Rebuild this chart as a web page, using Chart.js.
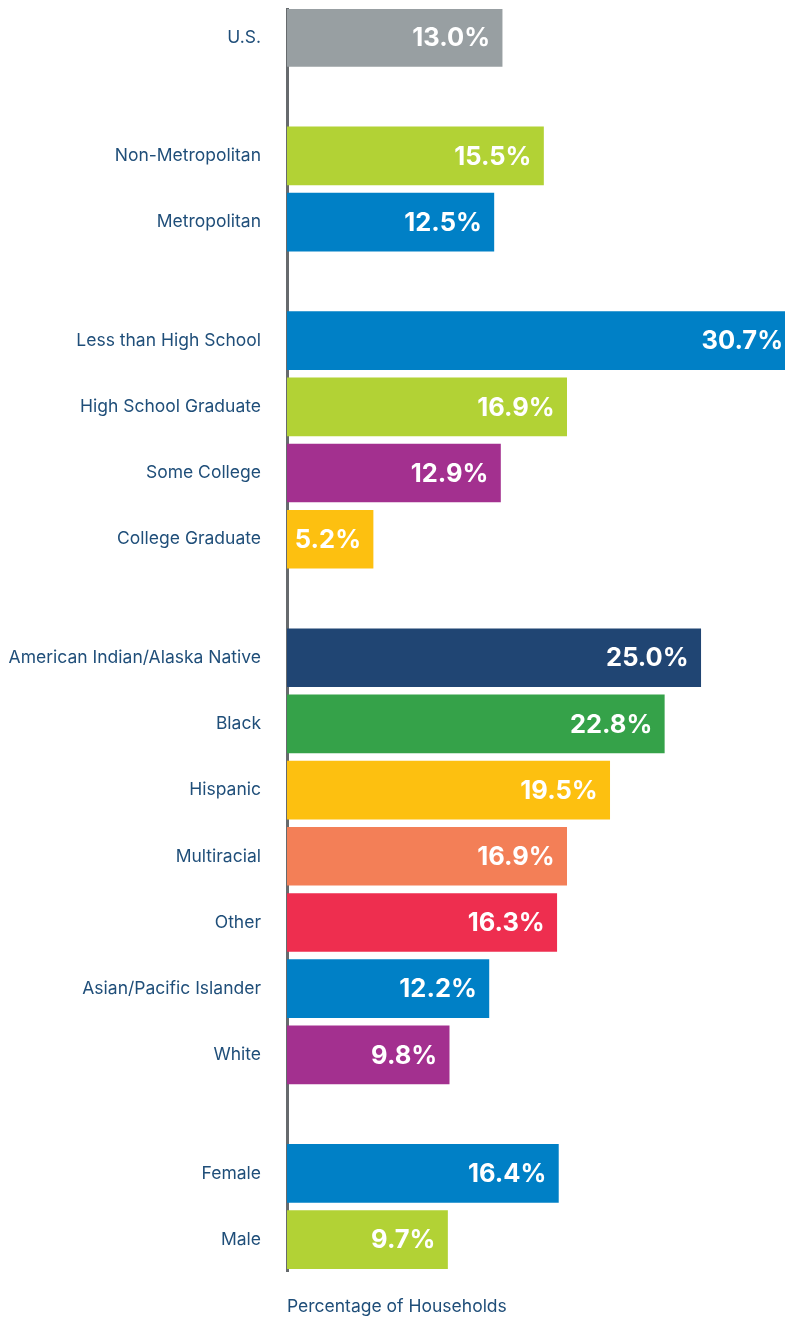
<!DOCTYPE html>
<html>
<head>
<meta charset="utf-8">
<script src="https://cdn.jsdelivr.net/npm/chart.js@4.4.1/dist/chart.umd.min.js"></script>
<style>
  html, body { margin: 0; padding: 0; background: #ffffff; overflow: hidden; }
  #wrap { position: relative; width: 800px; height: 1317px; }
</style>
</head>
<body>
<div id="wrap"><canvas id="c" width="800" height="1317"></canvas></div>
<script>
// ---- Data ----
const categories = [
  'U.S.',
  'Non-Metropolitan', 'Metropolitan',
  'Less than High School', 'High School Graduate', 'Some College', 'College Graduate',
  'American Indian/Alaska Native', 'Black', 'Hispanic', 'Multiracial', 'Other', 'Asian/Pacific Islander', 'White',
  'Female', 'Male'
];
const values = [
  13.0,
  15.5, 12.5,
  30.7, 16.9, 12.9, 5.2,
  25.0, 22.8, 19.5, 16.9, 16.3, 12.2, 9.8,
  16.4, 9.7
];
const groupSizes = [1, 2, 4, 7, 2];
const barColors = [
  '#989fa2',
  '#b2d235', '#0080c6',
  '#0080c6', '#b2d235', '#a3308f', '#fdc010',
  '#204573', '#35a249', '#fdc010', '#f37f57', '#ee2e4f', '#0080c6', '#a3308f',
  '#0080c6', '#b2d235'
];
const axisTitle = 'Percentage of Households';

// ---- Layout helpers ----
const GAP = 0.79;
const positions = [];
(function () {
  let pos = 0;
  groupSizes.forEach((n) => {
    for (let k = 0; k < n; k++) {
      positions.push(pos);
      pos += 1;
    }
    pos += GAP;
  });
})();
const lastPos = positions[positions.length - 1];
const points = values.map((v, i) => ({ x: v, y: positions[i] }));

const LABEL_COLOR = '#1f4e79';
const FONT = 'Inter, "Open Sans", "DejaVu Sans", sans-serif';

const valueLabels = {
  id: 'valueLabels',
  afterDatasetsDraw(chart) {
    const ctx = chart.ctx;
    const meta = chart.getDatasetMeta(0);
    ctx.save();
    ctx.font = 'bold 25.5px ' + FONT;
    ctx.fillStyle = '#ffffff';
    ctx.textAlign = 'right';
    ctx.textBaseline = 'middle';
    meta.data.forEach((bar, i) => {
      ctx.fillText(values[i].toFixed(1) + '%', bar.x - 12, bar.y + 1);
    });
    ctx.restore();
  }
};

new Chart(document.getElementById('c'), {
  type: 'bar',
  data: {
    datasets: [{
      data: points,
      backgroundColor: barColors,
      borderWidth: 0,
      barThickness: 58
    }]
  },
  options: {
    indexAxis: 'y',
    responsive: false,
    animation: false,
    events: [],
    layout: { padding: { top: 9, right: 0, bottom: 0, left: 0 } },
    plugins: { legend: { display: false }, tooltip: { enabled: false } },
    scales: {
      x: {
        type: 'linear',
        min: 0,
        max: 31,
        position: 'bottom',
        grid: { display: false },
        border: { display: false },
        ticks: { display: false },
        title: {
          display: true,
          text: axisTitle,
          align: 'start',
          color: LABEL_COLOR,
          font: { family: FONT, size: 17.5 },
          padding: { top: 25, bottom: 0 }
        },
        afterFit: (scale) => {
          scale.height = 46;
          scale.paddingLeft = 0;
          scale.paddingRight = 0;
        }
      },
      y: {
        type: 'linear',
        reverse: true,
        offset: false,
        min: -0.43,
        max: lastPos + 0.475,
        grid: { display: false },
        border: { display: true, color: '#666a6d', width: 3 },
        ticks: {
          autoSkip: false,
          padding: 18,
          color: LABEL_COLOR,
          font: { family: FONT, size: 17.5 },
          callback: (v, i) => categories[i]
        },
        afterBuildTicks: (scale) => {
          scale.ticks = positions.map(p => ({ value: p }));
        },
        afterFit: (scale) => {
          scale.width = 287;
          scale.paddingTop = 0;
          scale.paddingBottom = 0;
        }
      }
    }
  },
  plugins: [valueLabels]
});
</script>
</body>
</html>
